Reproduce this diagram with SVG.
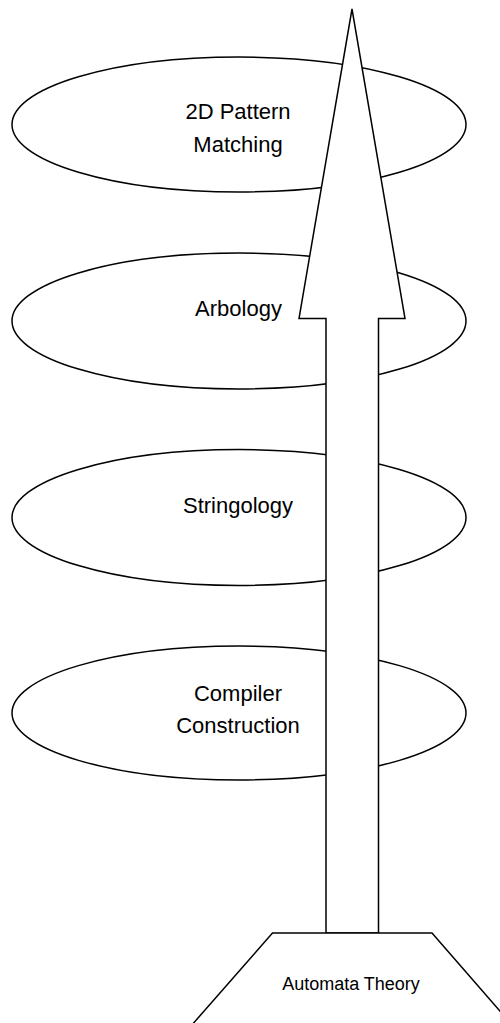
<svg xmlns="http://www.w3.org/2000/svg" width="500" height="1023" viewBox="0 0 500 1023">
<style>
.shape{fill:#fff;stroke:#000;stroke-width:1.5}
.lbl{font-family:"Liberation Sans",Arial,sans-serif;font-size:22px;fill:#000;text-anchor:middle}
.small{font-size:18px}
</style>
<rect width="500" height="1023" fill="#fff"/>
<g id="node-2d">
<ellipse class="shape" cx="239" cy="124.5" rx="227" ry="67.5"/>
<text class="lbl" x="238" y="119">2D Pattern</text>
<text class="lbl" x="238" y="152">Matching</text>
</g>
<g id="node-arbology">
<ellipse class="shape" cx="239" cy="321" rx="227" ry="68"/>
<text class="lbl" x="238.5" y="316">Arbology</text>
</g>
<g id="node-stringology">
<ellipse class="shape" cx="239" cy="517.5" rx="227" ry="68"/>
<text class="lbl" x="238" y="513">Stringology</text>
</g>
<g id="node-compiler">
<ellipse class="shape" cx="239" cy="713" rx="227" ry="67"/>
<text class="lbl" x="238" y="701">Compiler</text>
<text class="lbl" x="238" y="733">Construction</text>
</g>
<g id="connectors">
<path class="shape" d="M352,9 L405,318.5 L378.5,318.5 L378.5,933 L326,933 L326,318.5 L299,318.5 Z"/>
</g>
<g id="node-automata">
<path class="shape" d="M272.5,933 L432,933 L513,1026 L191,1026 Z"/>
<text class="lbl small" x="351" y="990">Automata Theory</text>
</g>
</svg>
